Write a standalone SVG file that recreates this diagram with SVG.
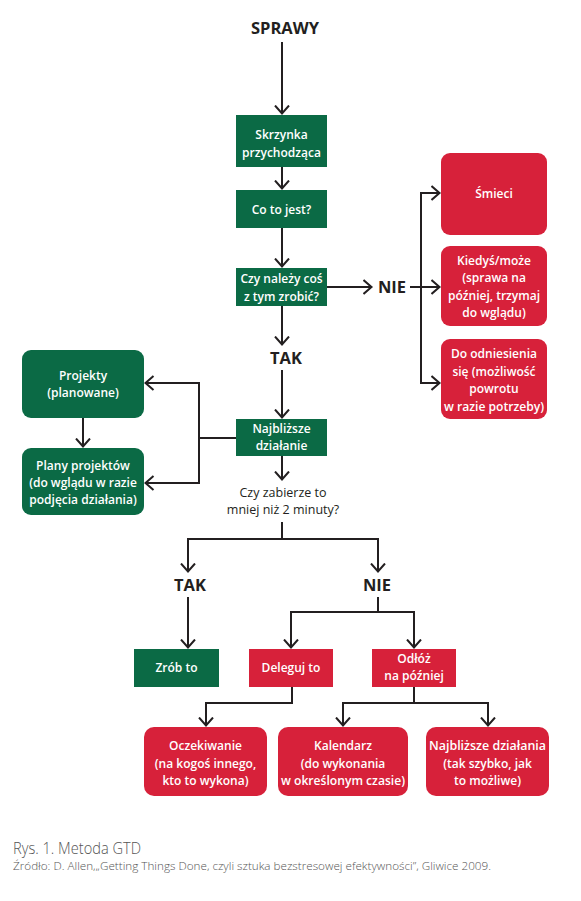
<svg xmlns="http://www.w3.org/2000/svg" width="581" height="901" viewBox="0 0 581 901">
<defs>
<marker id="arr" viewBox="-1 -8 11 16" refX="8.5" refY="0" markerWidth="11" markerHeight="16" markerUnits="userSpaceOnUse" orient="auto">
<path d="M0,-7 L8,0 L0,7" fill="none" stroke="#231f20" stroke-width="2"/>
</marker>
</defs>
<style>
.g{fill:#0b6a45}
.r{fill:#d7213a}
.t{font-family:"Open Sans","Noto Sans","Liberation Sans",sans-serif;font-size:12px;font-weight:600;fill:#fff;text-anchor:middle}
.k{font-family:"Open Sans","Noto Sans","Liberation Sans",sans-serif;font-size:16.5px;font-weight:700;fill:#231f20;text-anchor:middle}
.q{font-family:"Open Sans","Noto Sans","Liberation Sans",sans-serif;font-size:12.5px;fill:#231f20;text-anchor:middle}
.c{fill:none;stroke:#231f20;stroke-width:2}
.cap{font-family:"Open Sans","Noto Sans","Liberation Sans",sans-serif;fill:#555;font-weight:300}
</style>
<rect width="581" height="901" fill="#fff"/>
<g id="connectors" class="c">
<path d="M282,42 V114" marker-end="url(#arr)"/>
<path d="M282,167 V189" marker-end="url(#arr)"/>
<path d="M282,228 V267" marker-end="url(#arr)"/>
<path d="M327,287 H372" marker-end="url(#arr)"/>
<path d="M410,287 H440" marker-end="url(#arr)"/>
<path d="M421,287 V193 H440" marker-end="url(#arr)"/>
<path d="M421,287 V383 H440" marker-end="url(#arr)"/>
<path d="M282,306 V345" marker-end="url(#arr)"/>
<path d="M282,370 V418" marker-end="url(#arr)"/>
<path d="M236,438 H199 V383 H145" marker-end="url(#arr)"/>
<path d="M199,438 V483 H145" marker-end="url(#arr)"/>
<path d="M83,418 V447" marker-end="url(#arr)"/>
<path d="M282,456 V480" marker-end="url(#arr)"/>
<path d="M282,522 V539 H188 V572" marker-end="url(#arr)"/>
<path d="M282,539 H378 V572" marker-end="url(#arr)"/>
<path d="M188,597 V648" marker-end="url(#arr)"/>
<path d="M378,597 V612 H291 V648" marker-end="url(#arr)"/>
<path d="M378,612 H414 V648" marker-end="url(#arr)"/>
<path d="M292,687 V703 H206 V726" marker-end="url(#arr)"/>
<path d="M414,687 V703 H343 V726" marker-end="url(#arr)"/>
<path d="M414,703 H488 V726" marker-end="url(#arr)"/>
</g>
<g id="sprawy"><text class="k" x="285" y="34">SPRAWY</text></g>
<g id="skrzynka"><rect class="g" x="236" y="115" width="91" height="52"/>
<text class="t" x="281.5" y="139">Skrzynka</text><text class="t" x="281.5" y="157">przychodząca</text></g>
<g id="cotojest"><rect class="g" x="236" y="190" width="91" height="38"/>
<text class="t" x="281.5" y="214">Co to jest?</text></g>
<g id="czynalezy"><rect class="g" x="236" y="268" width="91" height="38"/>
<text class="t" x="281.5" y="283">Czy należy coś</text><text class="t" x="281.5" y="301">z tym zrobić?</text></g>
<g id="nie1"><text class="k" x="392" y="293">NIE</text></g>
<g id="smieci"><rect class="r" x="441" y="153" width="106" height="82" rx="9"/>
<text class="t" x="494" y="198">Śmieci</text></g>
<g id="kiedys"><rect class="r" x="441" y="246" width="106" height="80" rx="9"/>
<text class="t" x="494" y="265">Kiedyś/może</text><text class="t" x="494" y="282">(sprawa na</text><text class="t" x="494" y="300">później, trzymaj</text><text class="t" x="494" y="317">do wglądu)</text></g>
<g id="doodniesienia"><rect class="r" x="441" y="339" width="106" height="80" rx="9"/>
<text class="t" x="494" y="358">Do odniesienia</text><text class="t" x="494" y="376">się (możliwość</text><text class="t" x="494" y="393">powrotu</text><text class="t" x="494" y="411" textLength="100" lengthAdjust="spacingAndGlyphs">w razie potrzeby)</text></g>
<g id="tak1"><text class="k" x="286" y="364">TAK</text></g>
<g id="projekty"><rect class="g" x="22" y="350" width="122" height="68" rx="9"/>
<text class="t" x="83" y="380">Projekty</text><text class="t" x="83" y="397">(planowane)</text></g>
<g id="plany"><rect class="g" x="22" y="448" width="122" height="67" rx="9"/>
<text class="t" x="83" y="470">Plany projektów</text><text class="t" x="83" y="487">(do wglądu w razie</text><text class="t" x="83" y="504">podjęcia działania)</text></g>
<g id="najblizsze"><rect class="g" x="236" y="419" width="91" height="37"/>
<text class="t" x="281.5" y="433">Najbliższe</text><text class="t" x="281.5" y="450">działanie</text></g>
<g id="pytanie"><text class="q" x="283" y="497">Czy zabierze to</text><text class="q" x="283" y="514">mniej niż 2 minuty?</text></g>
<g id="tak2"><text class="k" x="190" y="591">TAK</text></g>
<g id="nie2"><text class="k" x="377" y="591">NIE</text></g>
<g id="zrob"><rect class="g" x="134" y="649" width="85" height="38"/>
<text class="t" x="176.5" y="672">Zrób to</text></g>
<g id="deleguj"><rect class="r" x="249" y="649" width="84" height="38"/>
<text class="t" x="291" y="672">Deleguj to</text></g>
<g id="odloz"><rect class="r" x="372" y="649" width="84" height="38"/>
<text class="t" x="414" y="663">Odłóż</text><text class="t" x="414" y="680">na później</text></g>
<g id="oczekiwanie"><rect class="r" x="144" y="727" width="123" height="69" rx="10"/>
<text class="t" x="205.5" y="750">Oczekiwanie</text><text class="t" x="205.5" y="768">(na kogoś innego,</text><text class="t" x="205.5" y="785">kto to wykona)</text></g>
<g id="kalendarz"><rect class="r" x="278" y="727" width="130" height="69" rx="10"/>
<text class="t" x="343" y="750">Kalendarz</text><text class="t" x="343" y="768">(do wykonania</text><text class="t" x="343" y="785" textLength="124" lengthAdjust="spacingAndGlyphs">w określonym czasie)</text></g>
<g id="najblizszedzialania"><rect class="r" x="426" y="727" width="123" height="69" rx="10"/>
<text class="t" x="487.5" y="750" textLength="117" lengthAdjust="spacingAndGlyphs">Najbliższe działania</text><text class="t" x="487.5" y="768">(tak szybko, jak</text><text class="t" x="487.5" y="785">to możliwe)</text></g>
<g id="caption">
<text class="cap" x="13" y="854" font-size="15.5" textLength="128" lengthAdjust="spacingAndGlyphs">Rys. 1. Metoda GTD</text>
<text class="cap" x="13" y="870" font-size="11" textLength="478" lengthAdjust="spacingAndGlyphs">Źródło: D. Allen,„Getting Things Done, czyli sztuka bezstresowej efektywności”, Gliwice 2009.</text>
</g>
</svg>
